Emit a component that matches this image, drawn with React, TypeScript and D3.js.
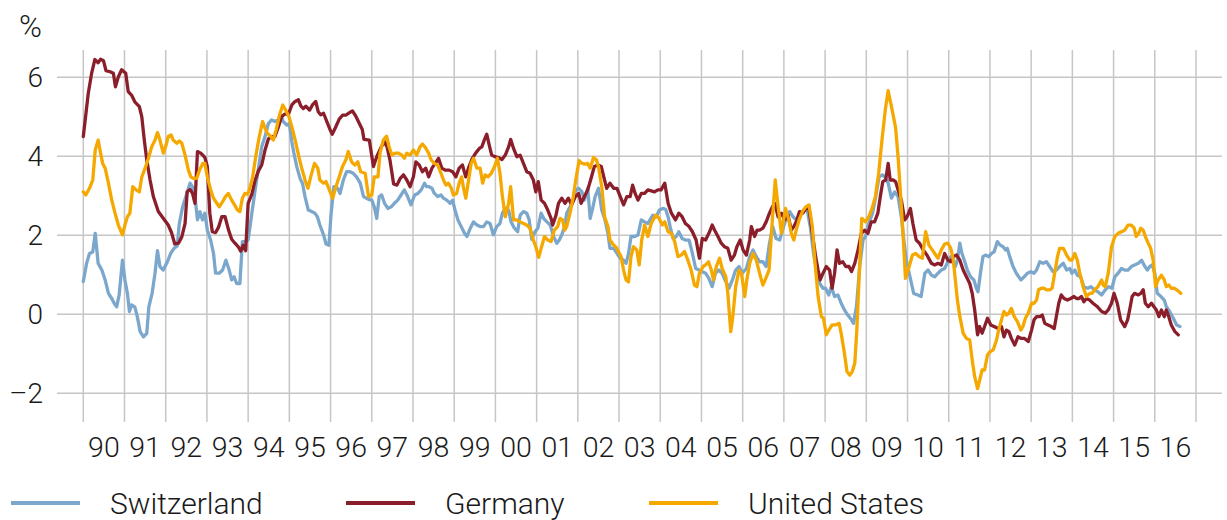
import * as d3 from "d3";

// 10y government bond yield minus inflation-ish spread, %, monthly-ish readings
const years = d3.range(1990, 2017);
const yTicks = [-2, 0, 2, 4, 6];
const seriesNames = ["Switzerland", "Germany", "United States"];
const seriesColors = ["#7ba7cc", "#8b1e2b", "#f5a800"];

const switzerland: [number, number][] = [
  [1990.0, 0.83], [1990.08, 1.29], [1990.15, 1.54], [1990.23, 1.58], [1990.29, 2.05], [1990.36, 1.29],
  [1990.45, 1.12], [1990.53, 0.87], [1990.61, 0.53], [1990.69, 0.4], [1990.75, 0.28], [1990.81, 0.19],
  [1990.87, 0.49], [1990.95, 1.37], [1991.01, 0.87], [1991.07, 0.53], [1991.12, 0.07], [1991.17, 0.24],
  [1991.25, 0.19], [1991.31, -0.06], [1991.38, -0.44], [1991.46, -0.57], [1991.54, -0.48], [1991.59, 0.19],
  [1991.67, 0.53], [1991.74, 1.04], [1991.8, 1.61], [1991.86, 1.21], [1991.94, 1.12], [1992.04, 1.33],
  [1992.12, 1.54], [1992.2, 1.67], [1992.28, 1.73], [1992.33, 2.3], [1992.41, 2.72], [1992.49, 2.98],
  [1992.59, 3.32], [1992.65, 3.23], [1992.71, 2.98], [1992.77, 2.39], [1992.83, 2.6], [1992.89, 2.39],
  [1992.95, 2.56], [1993.01, 2.13], [1993.09, 1.88], [1993.16, 1.54], [1993.21, 1.04], [1993.3, 1.04],
  [1993.38, 1.12], [1993.46, 1.37], [1993.54, 1.12], [1993.6, 0.87], [1993.66, 0.95], [1993.72, 0.78],
  [1993.8, 0.78], [1993.86, 1.84], [1993.92, 1.84], [1994.0, 1.88], [1994.09, 2.56], [1994.17, 3.15],
  [1994.25, 3.7], [1994.33, 4.24], [1994.41, 4.5], [1994.49, 4.83], [1994.57, 4.92], [1994.65, 4.88],
  [1994.73, 4.92], [1994.8, 5.04], [1994.85, 4.88], [1994.94, 4.79], [1995.0, 4.83], [1995.06, 4.37],
  [1995.11, 4.08], [1995.18, 3.74], [1995.26, 3.44], [1995.32, 3.31], [1995.38, 2.98], [1995.46, 2.64],
  [1995.54, 2.6], [1995.62, 2.56], [1995.68, 2.47], [1995.74, 2.26], [1995.83, 2.01], [1995.89, 1.78],
  [1995.96, 1.75], [1996.01, 2.51], [1996.08, 3.23], [1996.17, 3.19], [1996.23, 3.06], [1996.31, 3.4],
  [1996.39, 3.61], [1996.47, 3.61], [1996.55, 3.57], [1996.63, 3.48], [1996.72, 3.32], [1996.8, 2.98],
  [1996.92, 2.91], [1997.0, 2.89], [1997.06, 2.72], [1997.12, 2.43], [1997.18, 2.98], [1997.24, 3.02],
  [1997.31, 2.81], [1997.39, 2.68], [1997.47, 2.72], [1997.55, 2.81], [1997.63, 2.89], [1997.71, 3.02],
  [1997.79, 3.15], [1997.87, 2.98], [1997.95, 2.77], [1998.04, 3.02], [1998.12, 3.06], [1998.2, 3.15],
  [1998.28, 3.32], [1998.33, 3.23], [1998.39, 3.23], [1998.46, 3.19], [1998.52, 3.06], [1998.6, 2.98],
  [1998.68, 3.02], [1998.74, 2.94], [1998.82, 2.89], [1998.9, 2.81], [1998.96, 2.89], [1999.02, 2.64],
  [1999.09, 2.39], [1999.17, 2.22], [1999.25, 2.05], [1999.31, 1.97], [1999.39, 2.18], [1999.47, 2.34],
  [1999.55, 2.26], [1999.63, 2.22], [1999.71, 2.22], [1999.79, 2.34], [1999.87, 2.3], [1999.95, 2.01],
  [2000.03, 2.22], [2000.11, 2.3], [2000.17, 2.56], [2000.24, 2.68], [2000.32, 2.64], [2000.38, 2.34],
  [2000.46, 2.18], [2000.54, 2.09], [2000.6, 2.51], [2000.68, 2.6], [2000.76, 2.56], [2000.82, 2.39],
  [2000.88, 1.9], [2000.96, 2.09], [2001.03, 2.18], [2001.11, 2.56], [2001.17, 2.43], [2001.25, 2.34],
  [2001.33, 2.26], [2001.41, 1.97], [2001.49, 1.8], [2001.55, 1.88], [2001.61, 2.01], [2001.68, 2.22],
  [2001.73, 2.56], [2001.81, 2.72], [2001.89, 2.89], [2001.95, 3.15], [2002.02, 3.19], [2002.1, 3.1],
  [2002.16, 2.89], [2002.24, 3.19], [2002.3, 2.43], [2002.36, 2.68], [2002.42, 2.98], [2002.5, 3.19],
  [2002.58, 2.64], [2002.66, 2.39], [2002.73, 2.05], [2002.78, 1.67], [2002.87, 1.67], [2002.95, 1.54],
  [2003.03, 1.42], [2003.11, 1.37], [2003.17, 1.29], [2003.23, 1.54], [2003.29, 1.97], [2003.38, 1.97],
  [2003.46, 2.01], [2003.54, 2.39], [2003.62, 2.34], [2003.7, 2.3], [2003.82, 2.51], [2003.9, 2.47],
  [2003.98, 2.64], [2004.06, 2.68], [2004.13, 2.66], [2004.19, 2.47], [2004.24, 2.22], [2004.31, 1.92],
  [2004.39, 1.97], [2004.45, 2.09], [2004.53, 1.92], [2004.61, 1.88], [2004.7, 1.88], [2004.78, 1.54],
  [2004.86, 1.16], [2004.94, 1.12], [2005.02, 1.08], [2005.1, 1.04], [2005.18, 0.91], [2005.26, 0.7],
  [2005.34, 1.04], [2005.42, 1.12], [2005.5, 1.04], [2005.59, 0.83], [2005.67, 0.66], [2005.75, 0.87],
  [2005.83, 1.12], [2005.91, 1.21], [2005.99, 1.04], [2006.09, 1.16], [2006.17, 1.46], [2006.25, 1.63],
  [2006.33, 1.46], [2006.41, 1.33], [2006.49, 1.33], [2006.57, 1.21], [2006.65, 1.8], [2006.73, 2.22],
  [2006.81, 1.92], [2006.9, 1.88], [2006.98, 2.18], [2007.06, 2.43], [2007.14, 2.6], [2007.22, 2.47],
  [2007.3, 2.39], [2007.38, 2.51], [2007.48, 2.64], [2007.56, 2.68], [2007.64, 2.22], [2007.72, 1.54],
  [2007.79, 1.12], [2007.87, 0.78], [2007.95, 0.66], [2008.01, 0.66], [2008.09, 0.49], [2008.15, 0.7],
  [2008.23, 0.45], [2008.31, 0.49], [2008.39, 0.28], [2008.47, 0.11], [2008.55, -0.02], [2008.64, -0.14],
  [2008.69, -0.23], [2008.76, 0.19], [2008.84, 1.21], [2008.92, 1.88], [2008.98, 1.97], [2009.06, 2.3],
  [2009.15, 2.56], [2009.23, 2.98], [2009.31, 3.48], [2009.39, 3.53], [2009.45, 3.48], [2009.53, 3.32],
  [2009.61, 2.94], [2009.69, 3.1], [2009.77, 2.98], [2009.85, 2.47], [2009.91, 1.88], [2009.97, 1.37],
  [2010.05, 0.99], [2010.15, 0.53], [2010.25, 0.49], [2010.33, 0.45], [2010.42, 1.04], [2010.5, 1.12],
  [2010.58, 0.99], [2010.66, 0.95], [2010.74, 1.04], [2010.82, 1.12], [2010.9, 1.16], [2010.98, 1.33],
  [2011.05, 1.46], [2011.11, 1.37], [2011.16, 1.21], [2011.21, 1.37], [2011.27, 1.8], [2011.32, 1.54],
  [2011.39, 1.33], [2011.45, 1.12], [2011.53, 0.95], [2011.61, 0.87], [2011.67, 0.66], [2011.71, 0.57],
  [2011.78, 1.12], [2011.83, 1.46], [2011.89, 1.5], [2011.97, 1.46], [2012.04, 1.54], [2012.1, 1.58],
  [2012.18, 1.84], [2012.25, 1.75], [2012.32, 1.71], [2012.38, 1.63], [2012.42, 1.67], [2012.48, 1.46],
  [2012.56, 1.21], [2012.64, 1.04], [2012.75, 0.87], [2012.83, 0.95], [2012.91, 1.04], [2012.99, 1.08],
  [2013.07, 1.04], [2013.13, 1.12], [2013.21, 1.33], [2013.29, 1.29], [2013.37, 1.33], [2013.45, 1.21],
  [2013.53, 1.08], [2013.61, 1.12], [2013.69, 1.21], [2013.78, 1.29], [2013.86, 1.12], [2013.94, 1.16],
  [2013.99, 1.04], [2014.06, 1.12], [2014.12, 0.99], [2014.2, 0.95], [2014.28, 0.7], [2014.37, 0.66],
  [2014.45, 0.7], [2014.53, 0.62], [2014.62, 0.57], [2014.71, 0.49], [2014.8, 0.62], [2014.88, 0.7],
  [2014.96, 0.66], [2015.03, 0.95], [2015.11, 1.04], [2015.19, 1.16], [2015.27, 1.12], [2015.35, 1.12],
  [2015.43, 1.21], [2015.51, 1.25], [2015.6, 1.29], [2015.68, 1.37], [2015.76, 1.21], [2015.82, 1.12],
  [2015.88, 1.21], [2015.94, 1.25], [2016.0, 1.04], [2016.06, 0.53], [2016.15, 0.45], [2016.23, 0.36],
  [2016.28, 0.19], [2016.36, 0.07], [2016.45, -0.1], [2016.53, -0.27], [2016.61, -0.31],
];

const germany: [number, number][] = [
  [1990.0, 4.5], [1990.12, 5.59], [1990.2, 6.09], [1990.28, 6.45], [1990.36, 6.37], [1990.42, 6.46],
  [1990.49, 6.42], [1990.55, 6.17], [1990.65, 6.14], [1990.73, 6.1], [1990.78, 5.76], [1990.85, 6.01],
  [1990.93, 6.19], [1991.03, 6.1], [1991.09, 5.64], [1991.17, 5.55], [1991.25, 5.38], [1991.36, 5.26],
  [1991.42, 5.0], [1991.48, 4.41], [1991.54, 3.91], [1991.62, 3.4], [1991.7, 2.98], [1991.82, 2.6],
  [1991.94, 2.43], [1992.06, 2.26], [1992.14, 2.07], [1992.22, 1.78], [1992.31, 1.8], [1992.39, 1.96],
  [1992.47, 2.3], [1992.52, 3.1], [1992.59, 3.16], [1992.65, 3.06], [1992.71, 2.81], [1992.77, 4.12],
  [1992.85, 4.08], [1992.95, 3.97], [1993.01, 3.74], [1993.07, 2.56], [1993.13, 2.09], [1993.21, 2.07],
  [1993.28, 2.2], [1993.36, 2.47], [1993.44, 2.47], [1993.52, 2.15], [1993.6, 1.9], [1993.68, 1.8],
  [1993.76, 1.71], [1993.82, 1.6], [1993.88, 1.75], [1993.94, 1.61], [1994.0, 2.81], [1994.09, 3.04],
  [1994.17, 3.4], [1994.25, 3.63], [1994.33, 3.78], [1994.41, 4.16], [1994.49, 4.44], [1994.57, 4.5],
  [1994.65, 4.5], [1994.73, 4.73], [1994.81, 5.0], [1994.89, 5.07], [1994.98, 5.07], [1995.06, 5.3],
  [1995.14, 5.39], [1995.22, 5.43], [1995.28, 5.27], [1995.34, 5.21], [1995.4, 5.27], [1995.49, 5.17],
  [1995.56, 5.3], [1995.64, 5.39], [1995.7, 5.13], [1995.76, 5.05], [1995.83, 5.09], [1995.91, 4.88],
  [1995.99, 4.67], [1996.04, 4.56], [1996.12, 4.73], [1996.21, 4.94], [1996.29, 5.04], [1996.37, 5.04],
  [1996.45, 5.1], [1996.53, 5.15], [1996.61, 5.02], [1996.69, 4.85], [1996.77, 4.68], [1996.81, 4.43],
  [1996.94, 4.41], [1997.04, 3.74], [1997.12, 3.99], [1997.23, 4.24], [1997.31, 4.37], [1997.37, 4.24],
  [1997.44, 3.91], [1997.53, 3.3], [1997.61, 3.27], [1997.69, 3.44], [1997.77, 3.53], [1997.85, 3.4],
  [1997.93, 3.23], [1998.01, 3.48], [1998.07, 3.86], [1998.15, 3.78], [1998.23, 3.61], [1998.31, 3.7],
  [1998.38, 3.48], [1998.46, 3.7], [1998.54, 3.82], [1998.62, 3.95], [1998.7, 3.7], [1998.78, 3.65],
  [1998.88, 3.65], [1998.96, 3.61], [1999.04, 3.48], [1999.12, 3.7], [1999.2, 3.78], [1999.28, 3.48],
  [1999.36, 3.74], [1999.44, 3.95], [1999.52, 4.08], [1999.61, 4.2], [1999.67, 4.24], [1999.73, 4.41],
  [1999.79, 4.56], [1999.86, 4.24], [1999.91, 4.03], [1999.99, 3.99], [2000.07, 3.97], [2000.16, 3.92],
  [2000.24, 4.03], [2000.32, 4.24], [2000.37, 4.43], [2000.44, 4.2], [2000.52, 3.99], [2000.6, 4.03],
  [2000.68, 3.82], [2000.76, 3.61], [2000.84, 3.57], [2000.92, 3.4], [2000.98, 3.1], [2001.04, 3.36],
  [2001.11, 2.89], [2001.19, 2.81], [2001.27, 2.64], [2001.35, 2.43], [2001.39, 2.26], [2001.47, 2.51],
  [2001.53, 2.81], [2001.61, 2.94], [2001.69, 2.81], [2001.77, 2.94], [2001.85, 2.77], [2001.94, 2.98],
  [2002.02, 3.06], [2002.08, 2.81], [2002.16, 2.98], [2002.24, 3.15], [2002.32, 3.44], [2002.4, 3.74],
  [2002.49, 3.78], [2002.57, 3.74], [2002.63, 3.48], [2002.7, 3.19], [2002.78, 3.32], [2002.87, 3.19],
  [2002.95, 3.19], [2003.03, 2.98], [2003.11, 2.77], [2003.19, 2.98], [2003.27, 2.98], [2003.33, 3.27],
  [2003.39, 3.06], [2003.46, 2.89], [2003.54, 3.06], [2003.62, 3.06], [2003.7, 3.15], [2003.86, 3.1],
  [2003.94, 3.15], [2004.02, 3.15], [2004.11, 3.32], [2004.19, 2.81], [2004.27, 2.56], [2004.37, 2.39],
  [2004.45, 2.56], [2004.53, 2.47], [2004.61, 2.3], [2004.7, 2.22], [2004.78, 2.09], [2004.87, 1.88],
  [2004.95, 1.42], [2005.02, 1.92], [2005.1, 1.88], [2005.18, 2.05], [2005.26, 2.26], [2005.32, 2.13],
  [2005.4, 1.97], [2005.48, 1.8], [2005.56, 1.71], [2005.64, 1.67], [2005.72, 1.37], [2005.8, 1.5],
  [2005.86, 1.71], [2005.94, 1.88], [2006.01, 1.63], [2006.09, 1.5], [2006.17, 1.88], [2006.21, 2.22],
  [2006.29, 1.97], [2006.35, 2.13], [2006.41, 2.13], [2006.49, 2.18], [2006.57, 2.34], [2006.65, 2.56],
  [2006.72, 2.72], [2006.78, 2.81], [2006.86, 2.47], [2006.94, 2.56], [2007.02, 2.39], [2007.1, 2.51],
  [2007.18, 2.13], [2007.24, 2.22], [2007.3, 2.34], [2007.38, 2.6], [2007.46, 2.56], [2007.54, 2.68],
  [2007.61, 2.68], [2007.69, 2.05], [2007.77, 1.46], [2007.83, 1.12], [2007.88, 0.87], [2007.95, 1.04],
  [2008.03, 1.21], [2008.11, 1.12], [2008.17, 0.66], [2008.23, 1.04], [2008.29, 1.63], [2008.35, 1.29],
  [2008.43, 1.33], [2008.5, 1.21], [2008.58, 1.21], [2008.64, 1.08], [2008.72, 1.29], [2008.8, 1.63],
  [2008.88, 2.05], [2008.96, 2.13], [2009.04, 2.05], [2009.12, 2.34], [2009.2, 2.34], [2009.28, 2.56],
  [2009.34, 2.98], [2009.4, 3.36], [2009.47, 3.4], [2009.53, 3.82], [2009.58, 3.4], [2009.65, 3.4],
  [2009.71, 3.36], [2009.77, 3.15], [2009.85, 2.89], [2009.93, 2.39], [2009.99, 2.47], [2010.07, 2.68],
  [2010.13, 2.3], [2010.21, 1.88], [2010.29, 1.8], [2010.38, 1.63], [2010.47, 1.5], [2010.58, 1.29],
  [2010.66, 1.25], [2010.74, 1.29], [2010.82, 1.25], [2010.9, 1.54], [2010.98, 1.37], [2011.05, 1.33],
  [2011.11, 1.46], [2011.19, 1.5], [2011.27, 1.37], [2011.35, 1.12], [2011.43, 0.95], [2011.51, 0.78],
  [2011.57, 0.53], [2011.63, 0.11], [2011.7, -0.52], [2011.75, -0.31], [2011.81, -0.48], [2011.87, -0.31],
  [2011.94, -0.1], [2012.02, -0.27], [2012.1, -0.31], [2012.2, -0.36], [2012.28, -0.31], [2012.34, -0.57],
  [2012.4, -0.4], [2012.46, -0.44], [2012.52, -0.61], [2012.6, -0.78], [2012.68, -0.57], [2012.76, -0.61],
  [2012.84, -0.61], [2012.93, -0.69], [2013.01, -0.4], [2013.07, -0.14], [2013.13, -0.06], [2013.21, -0.06],
  [2013.27, -0.02], [2013.33, -0.23], [2013.41, -0.27], [2013.49, -0.31], [2013.56, -0.36], [2013.61, -0.06],
  [2013.67, 0.28], [2013.73, 0.49], [2013.8, 0.4], [2013.88, 0.36], [2013.96, 0.4], [2014.04, 0.45],
  [2014.1, 0.4], [2014.16, 0.4], [2014.22, 0.45], [2014.28, 0.32], [2014.34, 0.4], [2014.42, 0.36],
  [2014.5, 0.28], [2014.61, 0.19], [2014.71, 0.07], [2014.8, 0.03], [2014.87, 0.11], [2014.95, 0.28],
  [2015.01, 0.53], [2015.09, 0.28], [2015.17, -0.14], [2015.27, -0.31], [2015.34, -0.14], [2015.39, 0.11],
  [2015.45, 0.45], [2015.51, 0.53], [2015.6, 0.49], [2015.66, 0.53], [2015.72, 0.62], [2015.77, 0.28],
  [2015.84, 0.19], [2015.92, 0.28], [2015.98, 0.19], [2016.04, 0.11], [2016.1, -0.06], [2016.16, 0.11],
  [2016.23, -0.06], [2016.28, 0.11], [2016.34, -0.06], [2016.4, -0.27], [2016.49, -0.44], [2016.57, -0.52],
];

const unitedStates: [number, number][] = [
  [1990.0, 3.1], [1990.06, 3.02], [1990.15, 3.19], [1990.23, 3.4], [1990.29, 4.16], [1990.36, 4.41],
  [1990.42, 4.08], [1990.47, 3.82], [1990.53, 3.7], [1990.61, 3.32], [1990.69, 2.89], [1990.77, 2.56],
  [1990.85, 2.26], [1990.95, 2.01], [1991.01, 2.26], [1991.07, 2.47], [1991.13, 2.56], [1991.2, 3.23],
  [1991.28, 3.15], [1991.36, 3.1], [1991.42, 3.48], [1991.5, 3.7], [1991.58, 3.95], [1991.66, 4.24],
  [1991.74, 4.41], [1991.8, 4.6], [1991.86, 4.41], [1991.94, 4.08], [1992.01, 4.29], [1992.06, 4.5],
  [1992.13, 4.54], [1992.18, 4.41], [1992.27, 4.33], [1992.33, 4.39], [1992.39, 4.33], [1992.47, 4.03],
  [1992.55, 3.65], [1992.61, 3.48], [1992.67, 3.44], [1992.75, 3.44], [1992.82, 3.65], [1992.9, 3.82],
  [1992.95, 3.82], [1993.01, 3.48], [1993.09, 3.15], [1993.16, 2.94], [1993.24, 2.81], [1993.3, 2.72],
  [1993.38, 2.85], [1993.45, 2.98], [1993.52, 3.06], [1993.6, 2.89], [1993.67, 2.77], [1993.74, 2.64],
  [1993.8, 2.6], [1993.86, 2.94], [1993.92, 3.06], [1993.99, 3.04], [1994.05, 3.23], [1994.11, 3.48],
  [1994.19, 4.03], [1994.27, 4.5], [1994.35, 4.88], [1994.41, 4.71], [1994.47, 4.58], [1994.55, 4.5],
  [1994.61, 4.41], [1994.68, 4.67], [1994.76, 5.04], [1994.84, 5.3], [1994.91, 5.17], [1994.99, 5.0],
  [1995.07, 4.71], [1995.15, 4.37], [1995.23, 3.99], [1995.3, 3.7], [1995.38, 3.4], [1995.45, 3.19],
  [1995.53, 3.53], [1995.61, 3.82], [1995.69, 3.7], [1995.74, 3.4], [1995.83, 3.32], [1995.89, 3.36],
  [1995.97, 3.15], [1996.05, 2.94], [1996.13, 3.23], [1996.21, 3.48], [1996.29, 3.74], [1996.37, 3.91],
  [1996.43, 4.12], [1996.51, 3.86], [1996.59, 3.78], [1996.66, 3.86], [1996.73, 3.61], [1996.84, 3.57],
  [1996.92, 2.98], [1997.0, 3.02], [1997.06, 3.48], [1997.15, 3.48], [1997.2, 4.08], [1997.28, 4.41],
  [1997.36, 4.51], [1997.42, 4.24], [1997.49, 4.03], [1997.57, 4.08], [1997.65, 4.08], [1997.73, 4.03],
  [1997.79, 3.95], [1997.85, 4.08], [1997.93, 4.03], [1998.01, 4.16], [1998.09, 4.03], [1998.17, 4.24],
  [1998.23, 4.31], [1998.29, 4.24], [1998.38, 4.08], [1998.44, 3.91], [1998.52, 3.82], [1998.6, 3.78],
  [1998.68, 3.57], [1998.74, 3.4], [1998.8, 3.27], [1998.86, 3.32], [1998.93, 3.19], [1998.98, 3.02],
  [1999.06, 3.06], [1999.12, 3.32], [1999.18, 3.48], [1999.22, 3.23], [1999.28, 2.94], [1999.35, 3.4],
  [1999.41, 3.82], [1999.47, 3.95], [1999.55, 3.7], [1999.63, 3.7], [1999.69, 3.32], [1999.75, 3.53],
  [1999.82, 3.48], [1999.9, 3.57], [1999.98, 3.74], [2000.05, 3.95], [2000.11, 3.57], [2000.17, 2.98],
  [2000.24, 2.47], [2000.32, 2.81], [2000.37, 3.23], [2000.44, 2.39], [2000.52, 2.39], [2000.6, 2.34],
  [2000.68, 2.3], [2000.76, 2.26], [2000.84, 2.18], [2000.92, 1.88], [2000.98, 1.71], [2001.05, 1.44],
  [2001.11, 1.67], [2001.19, 1.97], [2001.27, 1.88], [2001.35, 1.84], [2001.43, 2.13], [2001.51, 2.22],
  [2001.57, 2.43], [2001.63, 2.39], [2001.68, 2.13], [2001.73, 2.22], [2001.81, 2.56], [2001.89, 2.98],
  [2001.95, 3.4], [2002.03, 3.89], [2002.1, 3.82], [2002.18, 3.8], [2002.24, 3.82], [2002.3, 3.7],
  [2002.38, 3.97], [2002.45, 3.91], [2002.5, 3.74], [2002.58, 3.23], [2002.65, 2.47], [2002.73, 2.22],
  [2002.78, 1.88], [2002.87, 1.75], [2002.92, 1.71], [2002.99, 1.58], [2003.05, 1.46], [2003.11, 1.12],
  [2003.17, 0.87], [2003.23, 0.82], [2003.29, 1.46], [2003.35, 1.71], [2003.43, 1.63], [2003.49, 1.25],
  [2003.55, 1.88], [2003.62, 2.26], [2003.7, 1.97], [2003.78, 2.3], [2003.89, 2.51], [2003.97, 2.43],
  [2004.05, 2.26], [2004.11, 2.34], [2004.19, 2.09], [2004.27, 2.05], [2004.35, 1.84], [2004.43, 1.46],
  [2004.51, 1.5], [2004.59, 1.59], [2004.67, 1.37], [2004.75, 1.12], [2004.83, 0.74], [2004.89, 0.7],
  [2004.95, 1.04], [2005.04, 1.21], [2005.1, 1.25], [2005.17, 1.33], [2005.24, 1.12], [2005.29, 0.87],
  [2005.36, 1.21], [2005.44, 1.42], [2005.5, 1.16], [2005.59, 0.95], [2005.64, 0.53], [2005.71, -0.44],
  [2005.76, -0.06], [2005.83, 0.7], [2005.91, 1.12], [2005.97, 1.04], [2006.05, 0.45], [2006.1, 0.87],
  [2006.17, 1.29], [2006.25, 1.54], [2006.33, 1.37], [2006.41, 1.04], [2006.49, 0.74], [2006.56, 0.91],
  [2006.64, 1.12], [2006.72, 2.39], [2006.79, 3.4], [2006.86, 2.72], [2006.94, 2.05], [2007.04, 2.68],
  [2007.12, 2.39], [2007.18, 2.05], [2007.24, 1.88], [2007.3, 2.13], [2007.37, 2.39], [2007.45, 2.6],
  [2007.53, 2.72], [2007.61, 2.77], [2007.69, 2.22], [2007.75, 1.37], [2007.83, 0.45], [2007.91, -0.06],
  [2007.96, -0.1], [2008.03, -0.52], [2008.09, -0.4], [2008.17, -0.27], [2008.25, -0.27], [2008.34, -0.23],
  [2008.39, -0.48], [2008.47, -0.99], [2008.53, -1.45], [2008.6, -1.54], [2008.66, -1.45], [2008.72, -1.24],
  [2008.77, -0.4], [2008.84, 1.29], [2008.89, 2.43], [2008.98, 2.34], [2009.06, 2.47], [2009.14, 2.68],
  [2009.22, 2.98], [2009.3, 3.57], [2009.38, 4.41], [2009.46, 5.17], [2009.53, 5.66], [2009.61, 5.26],
  [2009.71, 4.73], [2009.77, 3.99], [2009.83, 3.06], [2009.89, 2.05], [2009.95, 0.91], [2010.04, 1.21],
  [2010.12, 1.5], [2010.2, 1.54], [2010.28, 1.46], [2010.36, 1.42], [2010.44, 2.09], [2010.52, 1.75],
  [2010.6, 1.63], [2010.66, 1.54], [2010.74, 1.42], [2010.82, 1.63], [2010.9, 1.78], [2010.98, 1.8],
  [2011.05, 1.67], [2011.11, 1.37], [2011.16, 0.87], [2011.21, 0.36], [2011.27, -0.06], [2011.35, -0.48],
  [2011.43, -0.61], [2011.51, -0.65], [2011.57, -1.16], [2011.63, -1.58], [2011.7, -1.88], [2011.75, -1.67],
  [2011.81, -1.41], [2011.87, -1.41], [2011.94, -1.03], [2012.0, -0.95], [2012.08, -0.9], [2012.16, -0.65],
  [2012.21, -0.4], [2012.28, -0.14], [2012.34, 0.07], [2012.4, -0.02], [2012.46, 0.03], [2012.52, 0.15],
  [2012.59, -0.06], [2012.67, -0.19], [2012.75, -0.4], [2012.8, -0.31], [2012.86, -0.1], [2012.93, 0.03],
  [2013.01, 0.28], [2013.07, 0.28], [2013.13, 0.36], [2013.18, 0.62], [2013.25, 0.66], [2013.31, 0.66],
  [2013.37, 0.62], [2013.45, 0.62], [2013.51, 0.66], [2013.57, 1.04], [2013.64, 1.46], [2013.69, 1.67],
  [2013.78, 1.67], [2013.86, 1.5], [2013.94, 1.37], [2013.99, 1.37], [2014.06, 1.54], [2014.12, 1.37],
  [2014.18, 1.04], [2014.26, 0.7], [2014.34, 0.45], [2014.42, 0.53], [2014.48, 0.53], [2014.54, 0.62],
  [2014.62, 0.7], [2014.71, 0.87], [2014.75, 0.74], [2014.8, 0.7], [2014.87, 1.04], [2014.95, 1.71],
  [2015.03, 1.97], [2015.11, 2.05], [2015.19, 2.09], [2015.27, 2.13], [2015.35, 2.26], [2015.43, 2.26],
  [2015.5, 2.18], [2015.55, 1.97], [2015.61, 2.05], [2015.66, 2.18], [2015.72, 2.13], [2015.77, 1.97],
  [2015.84, 1.8], [2015.9, 1.67], [2015.96, 1.37], [2016.02, 0.7], [2016.08, 0.87], [2016.16, 0.99],
  [2016.23, 0.87], [2016.28, 0.7], [2016.34, 0.74], [2016.4, 0.66], [2016.47, 0.66], [2016.53, 0.62],
  [2016.63, 0.53],
];

const allSeries = [switzerland, germany, unitedStates];

const FONT = "Roboto, 'Noto Sans', 'DejaVu Sans', sans-serif";
const TEXT = "#1a1a1a";
const GRID = "#c6c6c6";

export default function App() {
  const x = d3.scaleLinear().domain([1990, 2017]).range([83.3, 1196]);
  const y = d3.scaleLinear().domain([0, 6]).range([314.3, 77.3]);

  const line = d3
    .line<[number, number]>()
    .x((d) => x(d[0]))
    .y((d) => y(d[1]));

  const legendX = [11, 346, 649]; // legend item offsets

  return (
    <svg
      width={1227}
      height={520}
      style={{ position: "absolute", left: 0, top: 0, background: "#fff" }}
      fontFamily={FONT}
      fontWeight={300}
    >
      {/* horizontal grid */}
      {yTicks.map((v) => (
        <line key={"h" + v} x1={57} x2={1222} y1={y(v)} y2={y(v)} stroke={GRID} strokeWidth={1.5} />
      ))}
      {/* vertical grid at year boundaries */}
      {[...years, 2017].map((yr) => (
        <line key={"v" + yr} x1={x(yr)} x2={x(yr)} y1={50} y2={422} stroke={GRID} strokeWidth={1.5} />
      ))}

      {/* y tick labels */}
      {yTicks.map((v) => (
        <text
          key={"yl" + v}
          x={43}
          y={y(v)}
          dy="0.36em"
          textAnchor="end"
          fontSize={28}
          fill={TEXT}
        >
          {v < 0 ? "\u2013" + Math.abs(v) : String(v)}
        </text>
      ))}
      <text x={19} y={37} fontSize={31} fill={TEXT}>
        %
      </text>

      {/* x tick labels */}
      {years.map((yr) => (
        <text key={"xl" + yr} x={x(yr + 0.5)} y={457} textAnchor="middle" fontSize={28.5} fill={TEXT}>
          {String(yr % 100).padStart(2, "0")}
        </text>
      ))}

      {/* series */}
      {allSeries.map((s, i) => (
        <path
          key={seriesNames[i]}
          d={line(s) || ""}
          fill="none"
          stroke={seriesColors[i]}
          strokeWidth={3.3}
          strokeLinejoin="round"
          strokeLinecap="round"
        />
      ))}

      {/* legend */}
      {seriesNames.map((name, i) => (
        <g key={"lg" + name} transform={`translate(${legendX[i]}, 503)`}>
          <line x1={0} x2={69} y1={0} y2={0} stroke={seriesColors[i]} strokeWidth={4} />
          <text x={99} y={11} fontSize={30} fill={TEXT}>
            {name}
          </text>
        </g>
      ))}
    </svg>
  );
}
